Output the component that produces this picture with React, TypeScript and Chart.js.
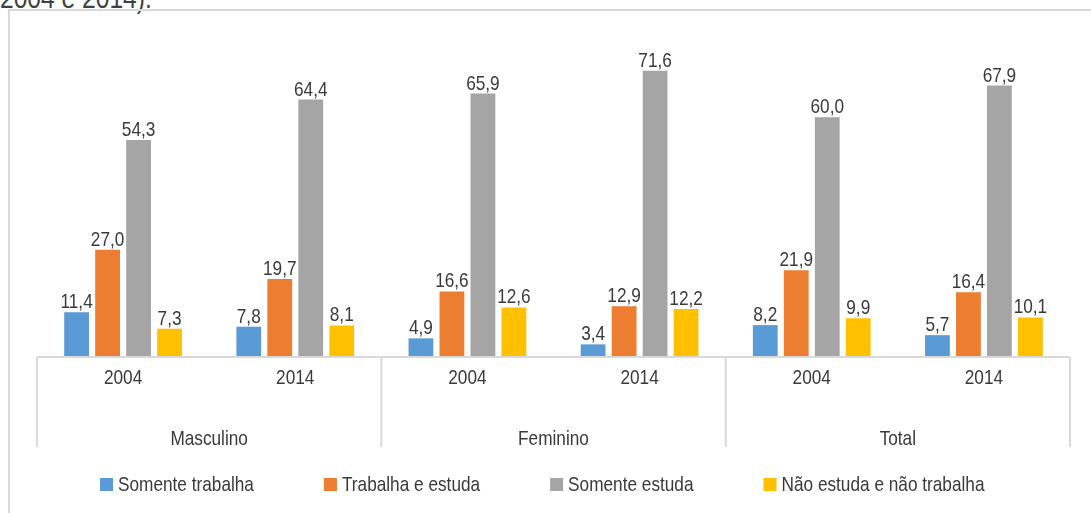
import React, { useEffect, useRef } from "react";
import { Chart, registerables } from "chart.js";

Chart.register(...registerables);

const years = ["2004", "2014", "2004", "2014", "2004", "2014"];
const groups = ["Masculino", "Feminino", "Total"];
const seriesNames = ["Somente trabalha", "Trabalha e estuda", "Somente estuda", "Não estuda e não trabalha"];
const somenteTrabalha = [11.4, 7.8, 4.9, 3.4, 8.2, 5.7];
const trabalhaEstuda = [27.0, 19.7, 16.6, 12.9, 21.9, 16.4];
const somenteEstuda = [54.3, 64.4, 65.9, 71.6, 60.0, 67.9];
const naoEstudaNaoTrabalha = [7.3, 8.1, 12.6, 12.2, 9.9, 10.1];
const seriesColors = ["#5B9BD5", "#ED7D31", "#A5A5A5", "#FFC000"];

const FONT = '"Liberation Sans", Arial, sans-serif';
const TEXT = "#3A3A3A";
const LINE = "#D9D9D9";
const NARROW = 0.82;

function narrowText(ctx: CanvasRenderingContext2D, text: string, x: number, y: number, align: "left" | "center") {
  const w = ctx.measureText(text).width * NARROW;
  const left = align === "center" ? x - w / 2 : x;
  ctx.save();
  ctx.textAlign = "left";
  ctx.translate(left, y);
  ctx.scale(NARROW, 1);
  ctx.fillText(text, 0, 0);
  ctx.restore();
  return w;
}

const decorPlugin = {
  id: "decor",
  afterDatasetsDraw(chart: any) {
    const ctx = chart.ctx as CanvasRenderingContext2D;
    const xs = chart.scales.x;
    const area = chart.chartArea;
    ctx.save();
    ctx.textBaseline = "alphabetic";

    // data labels
    ctx.font = `21px ${FONT}`;
    ctx.fillStyle = TEXT;
    chart.data.datasets.forEach((ds: any, di: number) => {
      const meta = chart.getDatasetMeta(di);
      meta.data.forEach((el: any, i: number) => {
        const v = ds.data[i] as number;
        narrowText(ctx, v.toFixed(1).replace(".", ","), el.x, el.y - 4, "center");
      });
    });

    // axis line
    const yAxis = area.bottom - 1;
    ctx.strokeStyle = LINE;
    ctx.lineWidth = 2;
    ctx.beginPath();
    ctx.moveTo(area.left, yAxis);
    ctx.lineTo(area.right, yAxis);
    ctx.stroke();

    // group separators
    const n = chart.data.labels.length;
    const half = (xs.getPixelForValue(1) - xs.getPixelForValue(0)) / 2;
    for (let g = 0; g <= groups.length; g++) {
      const px = g < groups.length ? xs.getPixelForValue(g * 2) - half : xs.getPixelForValue(n - 1) + half;
      ctx.beginPath();
      ctx.moveTo(px, yAxis);
      ctx.lineTo(px, yAxis + 90);
      ctx.stroke();
    }

    // year labels
    ctx.fillStyle = TEXT;
    years.forEach((y, i) => {
      narrowText(ctx, y, xs.getPixelForValue(i), yAxis + 27, "center");
    });

    // group labels
    groups.forEach((g, gi) => {
      const cx = (xs.getPixelForValue(gi * 2) + xs.getPixelForValue(gi * 2 + 1)) / 2;
      narrowText(ctx, g, cx, yAxis + 88, "center");
    });

    // legend
    const box = 13;
    const boxGap = 5;
    const itemGap = 70;
    let lx = area.left + 63;
    const baseY = yAxis + 134;
    chart.data.datasets.forEach((ds: any) => {
      ctx.fillStyle = ds.backgroundColor;
      ctx.fillRect(lx, baseY - 13, box, box);
      ctx.fillStyle = TEXT;
      const w = narrowText(ctx, ds.label, lx + box + boxGap, baseY, "left");
      lx += box + boxGap + w + itemGap;
    });

    ctx.restore();
  },
};

export default function App() {
  const ref = useRef<HTMLCanvasElement | null>(null);

  useEffect(() => {
    if (!ref.current) return;
    const seriesData = [somenteTrabalha, trabalhaEstuda, somenteEstuda, naoEstudaNaoTrabalha];
    const chart = new Chart(ref.current, {
      type: "bar",
      data: {
        labels: years.map((y, i) => `${groups[Math.floor(i / 2)]} ${y}`),
        datasets: seriesNames.map((name, i) => ({
          label: name,
          data: seriesData[i],
          backgroundColor: seriesColors[i],
          borderWidth: 0,
          categoryPercentage: 0.72,
          barPercentage: 0.8,
        })),
      },
      options: {
        responsive: false,
        animation: false,
        devicePixelRatio: 1,
        layout: { padding: { left: 37, right: 21, top: 37, bottom: 155 } },
        plugins: { legend: { display: false }, tooltip: { enabled: false } },
        scales: {
          x: { display: false },
          y: { display: false, min: 0, max: 80 },
        },
      },
      plugins: [decorPlugin],
    });
    return () => chart.destroy();
  }, []);

  return (
    <div style={{ position: "fixed", left: 0, top: 0, width: 1091, height: 513, overflow: "hidden", background: "#fff" }}>
      <div
        style={{
          position: "absolute",
          left: 0,
          top: -17,
          fontFamily: FONT,
          fontSize: 30,
          lineHeight: 1,
          color: "#404040",
          whiteSpace: "nowrap",
          transform: `scaleX(${NARROW})`,
          transformOrigin: "left top",
        }}
      >
        2004 e 2014).
      </div>
      <div
        style={{
          position: "absolute",
          left: 8,
          top: 9,
          width: 1200,
          height: 600,
          borderLeft: `2px solid ${LINE}`,
          borderTop: `2px solid ${LINE}`,
        }}
      />
      <canvas ref={ref} width={1091} height={513} style={{ position: "absolute", left: 0, top: 0 }} />
    </div>
  );
}
